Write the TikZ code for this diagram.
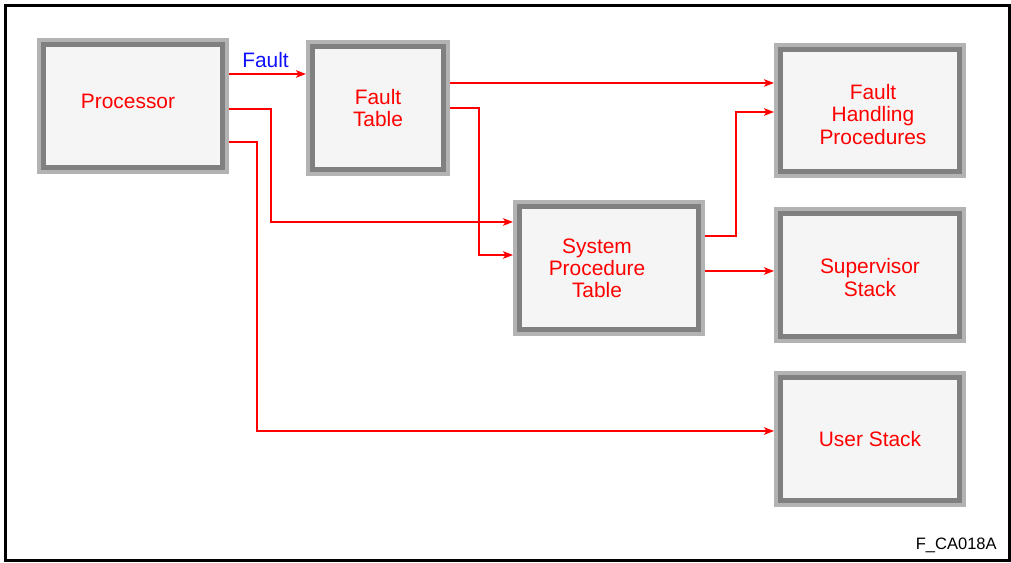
\documentclass[tikz,border=0pt]{standalone}
\usepackage{fontspec}
\setmainfont{Liberation Sans}
\usetikzlibrary{arrows.meta,calc}
\definecolor{boxfill}{HTML}{F5F5F5}
\definecolor{rimlight}{HTML}{B3B3B3}
\definecolor{rimdark}{HTML}{808080}
\definecolor{labelblue}{HTML}{1010FF}

\begin{document}
\begin{tikzpicture}[x=0.02cm,y=-0.02cm,line join=miter,
	box/.style={rectangle,fill=boxfill,draw=rimdark,line width=0.1cm,
		preaction={draw=rimlight,line width=0.26cm},outer sep=0.13cm,inner sep=0pt,
		minimum width=3.58cm,minimum height=2.46cm},
	boxtext/.style={align=center,text=red,inner sep=0pt,font=\fontsize{11.9}{12.6}\selectfont},
	flow/.style={-{Stealth[length=0.2cm,width=0.15cm,inset=0.05cm]},red,line width=0.036cm}]
	\useasboundingbox (0,0) rectangle (1011,563);
	\draw [line width=0.06cm] (5.5,5.5) rectangle (1009.5,561);
	% boxes
	\node[box,label={[boxtext,xshift=-0.1cm,yshift=0.1cm]center:Processor}] (proc) at (133,106) {};
	\node[box,minimum width=2.62cm,label={[boxtext]center:Fault\\Table}] (ftab) at (378,108) {};
	\node[box,label={[boxtext,xshift=-0.24cm]center:System\\Procedure\\Table}] (spt) at (609,268) {};
	\node[box,label={[boxtext,xshift=0.06cm,yshift=-0.08cm]center:Fault\\Handling\\Procedures}] (fhp) at (870,110.5) {};
	\node[box,label={[boxtext,yshift=-0.05cm]center:Supervisor\\Stack}] (sup) at (870,275) {};
	\node[box,label={[boxtext]center:User Stack}] (user) at (870,439) {};
	% connectors
	\draw [flow] ($(proc.east)+(0,-32)$) coordinate (pf) -- (pf -| ftab.west)
		node[midway,above,xshift=-0.04cm,text=labelblue,font=\fontsize{11.9}{12.6}\selectfont] {Fault};
	\draw [flow] ($(proc.east)+(0,3)$) -- ++(42,0) |- ($(spt.west)+(0,-46)$);
	\draw [flow] ($(proc.east)+(0,36)$) -- ++(28,0) |- ($(user.west)+(0,-8)$);
	\draw [flow] ($(ftab.east)+(0,-25)$) coordinate (fh) -- (fh -| fhp.west);
	\draw [flow] (ftab.east) -- ++(29,0) |- ($(spt.west)+(0,-13)$);
	\draw [flow] ($(spt.east)+(0,-32)$) -- ++(31,0) |- ($(fhp.west)+(0,1.5)$);
	\draw [flow] ($(spt.east)+(0,3)$) coordinate (ss) -- (ss -| sup.west);
	\node[anchor=base east,inner sep=0pt,font=\fontsize{9.4}{10}\selectfont] (figid) at (997,550) {F\_CA018A};
\end{tikzpicture}
\end{document}
